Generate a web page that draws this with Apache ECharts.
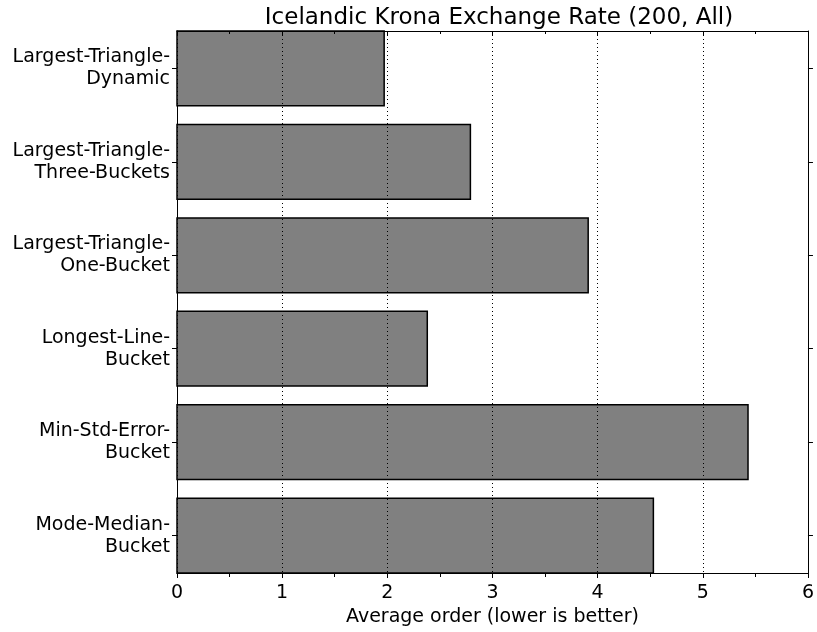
<!DOCTYPE html>
<html>
<head>
<meta charset="utf-8">
<script src="https://cdn.jsdelivr.net/npm/echarts@6/dist/echarts.min.js"></script>
<style>html,body{margin:0;padding:0;background:#fff}#c{width:817px;height:632px}</style>
</head>
<body>
<div id="c"></div>
<script>
const categories = [
  "Largest-Triangle-\nDynamic",
  "Largest-Triangle-\nThree-Buckets",
  "Largest-Triangle-\nOne-Bucket",
  "Longest-Line-\nBucket",
  "Min-Std-Error-\nBucket",
  "Mode-Median-\nBucket"
];
const values = [1.97, 2.79, 3.91, 2.38, 5.43, 4.53];
const xTicks = [0, 1, 2, 3, 4, 5, 6];
const titleText = "Icelandic Krona Exchange Rate (200, All)";
const xAxisName = "Average order (lower is better)";

const FONT = "DejaVu Sans";
const catIdx = categories.map((_, i) => i);
const chart = echarts.init(document.getElementById('c'), null, {renderer: 'canvas'});

const yCommon = {
  type: 'value', min: -0.4, max: 5.4, inverse: true,
  splitLine: {show: false},
  axisLine: {show: true, onZero: false, lineStyle: {color: '#000', width: 1}},
  axisTick: {show: true, inside: false, length: 5, customValues: catIdx, lineStyle: {color: '#000'}},
};

chart.setOption({
  animation: false,
  title: {
    text: titleText, left: 494, top: 2, textAlign: 'center',
    textStyle: {fontFamily: FONT, fontSize: 23, fontWeight: 'normal', color: '#000'}
  },
  grid: {left: 177, right: 3, top: 31, bottom: 53, containLabel: false},
  xAxis: [{
    type: 'value', min: 0, max: 6, interval: 1, position: 'bottom', z: 5,
    name: xAxisName, nameLocation: 'middle', nameGap: 35,
    nameTextStyle: {fontFamily: FONT, fontSize: 19, color: '#000'},
    axisLine: {show: true, onZero: false, lineStyle: {color: '#000', width: 1}},
    axisTick: {show: true, inside: false, length: 5, lineStyle: {color: '#000'}},
    minorTick: {show: true, splitNumber: 2, length: 4, lineStyle: {color: '#000'}},
    axisLabel: {fontFamily: FONT, fontSize: 19, color: '#000', margin: 11,
      customValues: xTicks, formatter: v => String(v)},
    splitLine: {show: true, lineStyle: {color: '#000', type: [1, 3], width: 1}}
  }, {
    type: 'value', min: 0, max: 6, interval: 1, position: 'top', z: 5,
    axisLine: {show: true, onZero: false, lineStyle: {color: '#000', width: 1}},
    axisTick: {show: true, inside: true, length: 5, lineStyle: {color: '#000'}},
    minorTick: {show: true, splitNumber: 2, length: 3, lineStyle: {color: '#000'}},
    axisLabel: {show: false},
    splitLine: {show: false}
  }],
  yAxis: [Object.assign({}, yCommon, {
    position: 'left',
    axisLabel: {
      fontFamily: FONT, fontSize: 19, color: '#000', margin: 7, lineHeight: 22,
      align: 'right', customValues: catIdx,
      formatter: v => categories[Math.round(v)] || ''
    }
  }), Object.assign({}, yCommon, {
    position: 'right',
    axisLabel: {show: false}
  })],
  series: [{
    type: 'custom',
    xAxisIndex: 0, yAxisIndex: 0,
    encode: {x: 0, y: 1},
    data: values.map((v, i) => [v, i]),
    renderItem: function (params, api) {
      const v = api.value(0), i = api.value(1);
      const p0 = api.coord([0, i]);
      const p1 = api.coord([v, i]);
      const h = Math.abs(api.size([0, 0.8])[1]);
      return {
        type: 'rect',
        shape: {x: p0[0], y: p0[1] - h / 2, width: p1[0] - p0[0], height: h},
        style: {fill: '#808080', stroke: '#000', lineWidth: 1.5}
      };
    }
  }]
});
</script>
</body>
</html>
